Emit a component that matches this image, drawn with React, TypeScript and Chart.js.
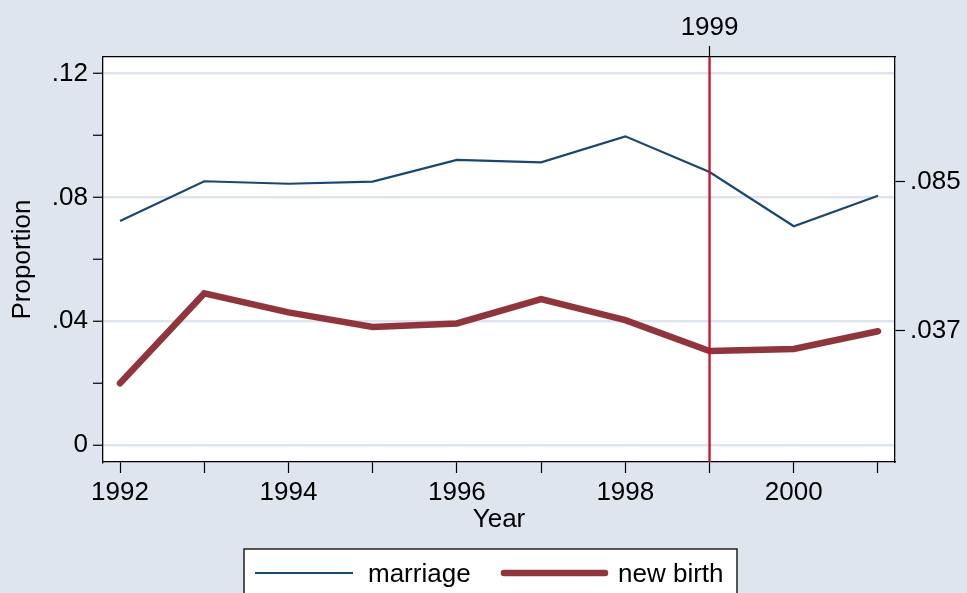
import React, { useEffect, useRef } from "react";
import { Chart, registerables } from "chart.js";

Chart.register(...registerables);

const years = [1992, 1993, 1994, 1995, 1996, 1997, 1998, 1999, 2000, 2001];
const marriage = [0.0724, 0.0852, 0.0844, 0.0851, 0.0921, 0.0913, 0.0997, 0.0882, 0.0707, 0.0805];
const newBirth = [0.02, 0.049, 0.0429, 0.0382, 0.0393, 0.0472, 0.0404, 0.0304, 0.0311, 0.0368];

const xTickValues = [1992, 1993, 1994, 1995, 1996, 1997, 1998, 1999, 2000, 2001];
const xTickLabels = ["1992", "", "1994", "", "1996", "", "1998", "", "2000", ""];
const yTickValues = [0, 0.02, 0.04, 0.06, 0.08, 0.1, 0.12];
const yTickLabels = ["0", "", ".04", "", ".08", "", ".12"];
const yMajor = [0, 0.04, 0.08, 0.12];
const y2TickValues = [0.085, 0.037];
const y2TickLabels = [".085", ".037"];
const topTickValues = [1999];
const topTickLabels = ["1999"];
const vLineYear = 1999;

const seriesNames = ["marriage", "new birth"];
const seriesColors = ["#1a476f", "#90353b"];
const seriesWidths = [2.2, 6.5];

const FONT = "'Liberation Sans', Arial, sans-serif";
const BG = "#dfe5ef";
const GRID = "#dfe5ef";

export default function App() {
  const ref = useRef<HTMLCanvasElement | null>(null);

  useEffect(() => {
    if (!ref.current) return;
    const font = { family: FONT, size: 26 };

    const plotBg = {
      id: "plotBg",
      beforeDraw(chart: any) {
        const { ctx, chartArea } = chart;
        ctx.save();
        ctx.fillStyle = "#ffffff";
        ctx.fillRect(chartArea.left, chartArea.top, chartArea.right - chartArea.left, chartArea.bottom - chartArea.top);
        ctx.restore();
      },
    };

    const vLine = {
      id: "vLine",
      afterDatasetsDraw(chart: any) {
        const { ctx, chartArea, scales } = chart;
        const x = scales.x.getPixelForValue(vLineYear);
        ctx.save();
        ctx.strokeStyle = "#c8102e";
        ctx.lineWidth = 2.3;
        ctx.beginPath();
        ctx.moveTo(x, chartArea.top);
        ctx.lineTo(x, chartArea.bottom);
        ctx.stroke();
        ctx.restore();
      },
    };

    const legendBox = {
      id: "legendBox",
      afterDraw(chart: any) {
        const { ctx } = chart;
        const left = 244, top = 549, right = 737, bottom = 600;
        ctx.save();
        ctx.fillStyle = "#ffffff";
        ctx.fillRect(left, top, right - left, bottom - top);
        ctx.strokeStyle = "#000000";
        ctx.lineWidth = 1.3;
        ctx.strokeRect(left, top, right - left, bottom - top);
        const items = [
          { x1: 255, x2: 353, tx: 368 },
          { x1: 504, x2: 605, tx: 618 },
        ];
        const ly = 573;
        items.forEach((it, i) => {
          ctx.strokeStyle = seriesColors[i];
          ctx.lineWidth = seriesWidths[i];
          ctx.lineCap = i === 1 ? "round" : "butt";
          ctx.beginPath();
          ctx.moveTo(it.x1, ly);
          ctx.lineTo(it.x2, ly);
          ctx.stroke();
          ctx.fillStyle = "#000000";
          ctx.font = `26px ${FONT}`;
          ctx.textBaseline = "alphabetic";
          ctx.textAlign = "left";
          ctx.fillText(seriesNames[i], it.tx, 582);
        });
        ctx.restore();
      },
    };

    const chart = new Chart(ref.current, {
      type: "line",
      data: {
        datasets: [
          {
            label: seriesNames[0],
            data: years.map((yr, i) => ({ x: yr, y: marriage[i] })),
            borderColor: seriesColors[0],
            borderWidth: seriesWidths[0],
            pointRadius: 0,
            tension: 0,
            xAxisID: "x",
            yAxisID: "y",
          },
          {
            label: seriesNames[1],
            data: years.map((yr, i) => ({ x: yr, y: newBirth[i] })),
            borderColor: seriesColors[1],
            borderWidth: seriesWidths[1],
            borderCapStyle: "round",
            pointRadius: 0,
            tension: 0,
            xAxisID: "x",
            yAxisID: "y",
          },
        ],
      },
      options: {
        responsive: false,
        animation: false,
        layout: { padding: 0 },
        plugins: { legend: { display: false }, tooltip: { enabled: false } },
        scales: {
          x: {
            type: "linear",
            position: "bottom",
            min: 1991.798,
            max: 2001.202,
            afterBuildTicks: (s: any) => { s.ticks = xTickValues.map((v) => ({ value: v })); },
            afterFit: (s: any) => { s.height = 131; },
            ticks: {
              autoSkip: false,
              maxRotation: 0,
              padding: 4,
              color: "#000",
              font,
              callback: (v: any) => { const i = xTickValues.indexOf(Number(v)); return i >= 0 ? xTickLabels[i] : ""; },
            },
            grid: { display: true, drawOnChartArea: false, drawTicks: true, tickLength: 11, tickColor: "#000", tickWidth: 1.2 },
            border: { display: true, color: "#000", width: 1.3 },
            title: { display: true, text: "Year", color: "#000", font, padding: { top: 58, bottom: 58 } },
          },
          x2: {
            type: "linear",
            position: "top",
            min: 1991.798,
            max: 2001.202,
            afterBuildTicks: (s: any) => { s.ticks = topTickValues.map((v) => ({ value: v })); },
            afterFit: (s: any) => { s.height = 57; },
            ticks: {
              autoSkip: false,
              maxRotation: 0,
              padding: 3,
              color: "#000",
              font,
              callback: (v: any) => { const i = topTickValues.indexOf(Number(v)); return i >= 0 ? topTickLabels[i] : ""; },
            },
            grid: { display: true, drawOnChartArea: false, drawTicks: true, tickLength: 11, tickColor: "#000", tickWidth: 1.2 },
            border: { display: true, color: "#000", width: 1.3 },
          },
          y: {
            type: "linear",
            position: "left",
            min: -0.0054,
            max: 0.1253,
            afterBuildTicks: (s: any) => { s.ticks = yTickValues.map((v) => ({ value: v })); },
            afterFit: (s: any) => { s.width = 103; },
            ticks: {
              autoSkip: false,
              padding: 5,
              color: "#000",
              font,
              callback: (v: any) => {
                const i = yTickValues.findIndex((t) => Math.abs(t - Number(v)) < 1e-9);
                return i >= 0 ? yTickLabels[i] : "";
              },
            },
            grid: {
              display: true,
              drawOnChartArea: true,
              drawTicks: true,
              tickLength: 10,
              lineWidth: 2.5,
              color: (c: any) => (yMajor.some((m) => Math.abs(m - c.tick?.value) < 1e-9) ? GRID : "rgba(0,0,0,0)"),
              tickColor: "#000",
              tickWidth: 1.2,
            },
            border: { display: true, color: "#000", width: 1.3 },
            title: { display: true, text: "Proportion", color: "#000", font, padding: { top: 7, bottom: 7 } },
          },
          y2: {
            type: "linear",
            position: "right",
            min: -0.0054,
            max: 0.1253,
            afterBuildTicks: (s: any) => { s.ticks = y2TickValues.map((v) => ({ value: v })); },
            afterFit: (s: any) => { s.width = 72; },
            ticks: {
              autoSkip: false,
              padding: 5,
              color: "#000",
              font,
              callback: (v: any) => {
                const i = y2TickValues.findIndex((t) => Math.abs(t - Number(v)) < 1e-9);
                return i >= 0 ? y2TickLabels[i] : "";
              },
            },
            grid: { display: true, drawOnChartArea: false, drawTicks: true, tickLength: 10, tickColor: "#000", tickWidth: 1.2 },
            border: { display: true, color: "#000", width: 1.3 },
          },
        },
      },
      plugins: [plotBg, vLine, legendBox],
    } as any);

    return () => chart.destroy();
  }, []);

  return (
    <div style={{ position: "fixed", left: 0, top: 0, width: 967, height: 593, background: BG, overflow: "hidden" }}>
      <canvas ref={ref} width={967} height={593} style={{ display: "block" }} />
    </div>
  );
}
